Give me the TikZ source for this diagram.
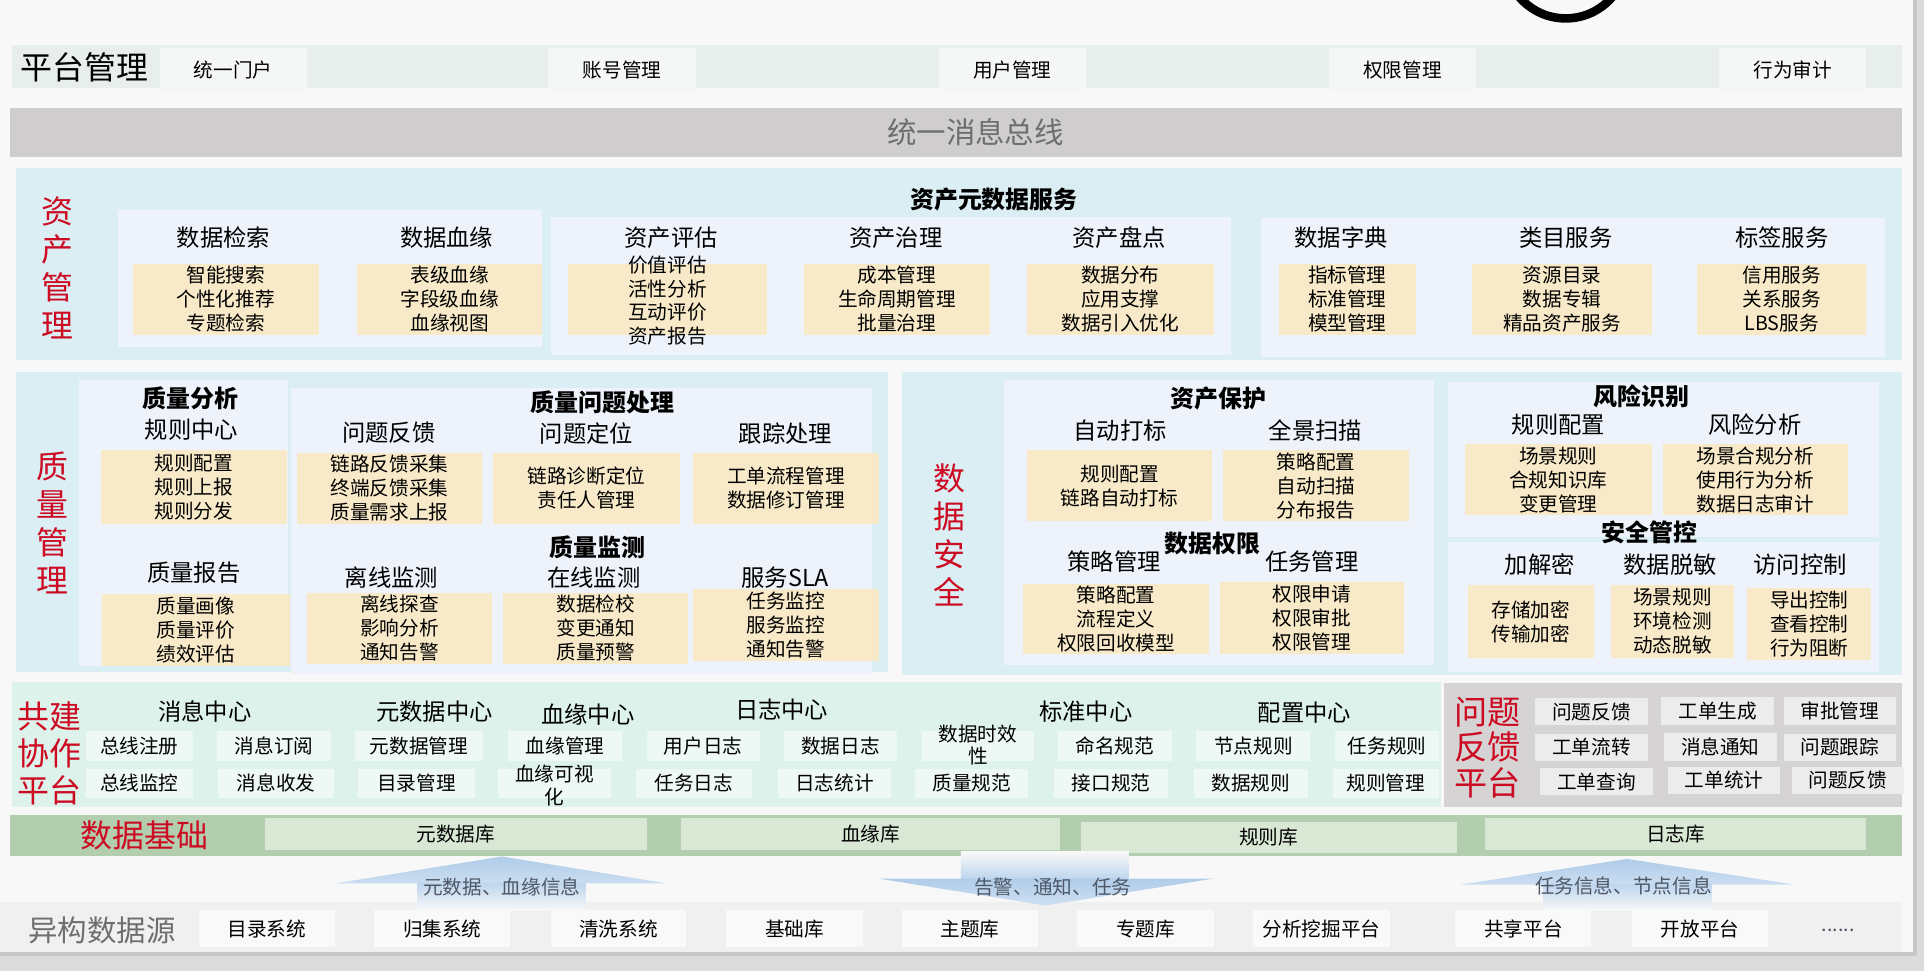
\documentclass[tikz,border=0pt]{standalone}
\usepackage{fontspec}
\setmainfont{Noto Sans CJK SC}
\usetikzlibrary{fit,positioning}
\definecolor{bgSlide} {HTML}{F8F8F8}
\definecolor{bgOut}   {HTML}{DCDCDC}
\definecolor{platBar} {HTML}{E7EEEC}
\definecolor{platBox} {HTML}{F4F7F6}
\definecolor{busGray} {HTML}{D0CDCE}
\definecolor{txtGray} {HTML}{6E6E6E}
\definecolor{secBlue} {HTML}{DBEEF4}
\definecolor{pnlWhite}{HTML}{EEF2FA}
\definecolor{ylw}     {HTML}{F8EAC8}
\definecolor{lblRed}  {HTML}{CC0A22}
\definecolor{mint}    {HTML}{DCF2EA}
\definecolor{mintBox} {HTML}{EEF8F4}
\definecolor{fbGray}  {HTML}{D5D3D3}
\definecolor{fbBox}   {HTML}{ECECEC}
\definecolor{sage}    {HTML}{B3CEAF}
\definecolor{sageBox} {HTML}{D9E8D5}
\definecolor{srcBar}  {HTML}{F0F0F0}
\definecolor{srcBox}  {HTML}{F9F9F9}
\definecolor{arrBlue} {HTML}{AFCCE9}
\definecolor{arrTxt}  {HTML}{4E5868}
\newcommand\fbig{\fontsize{26}{31}\selectfont}
\newcommand\fbus{\fontsize{24}{28}\selectfont}
\newcommand\fhd{\fontsize{19}{22}\selectfont}
\newcommand\fttl{\bfseries\fontsize{19.5}{22}\selectfont}
\newcommand\fitem{\fontsize{16}{19.5}\selectfont}

\begin{document}
\begin{tikzpicture}[x=1pt,y=-1pt,
      sec/.style={fill=secBlue,inner sep=0pt},
      pnl/.style={fill=pnlWhite,inner sep=0pt},
      tx/.style={inner sep=0pt,align=center,font=\fitem},
      c/.style={label={[tx]center:{#1}}},
      yb/.style={fill=ylw,inner sep=0pt},
      hd/.style={font=\fhd,inner sep=0pt},
      ttl/.style={font=\fttl,inner sep=0pt},
      rlab/.style={text=lblRed,font=\fbig,align=center,inner sep=0pt},
      pb/.style={fill=platBox,inner sep=0pt},
      mb/.style={fill=mintBox,inner sep=0pt},
      gb/.style={fill=fbBox,inner sep=0pt},
      db/.style={fill=sageBox,inner sep=0pt},
      sb/.style={fill=srcBox,inner sep=0pt},
      atxt/.style={text=arrTxt,font=\fitem,inner sep=0pt}]
    \useasboundingbox (0,0) rectangle (1568,791);
    \clip (0,0) rectangle (1568,791);
    % slide and its shadow
    \fill[bgOut] (0,0) rectangle (1568,791);
    \fill[black!22] (0,0) rectangle (1562,779);
    \fill[bgSlide] (0,0) rectangle (1559,776);
    \draw[line width=7pt] (1276,-35) circle (50pt);

    % platform management
    \fill[platBar] (10,37) rectangle (1550,72);
    \node[font=\fbig,inner sep=0pt] (ptgl) at (69,55) {平台管理};
    \node[pb,fit={(130,39) (250,75)},c=统一门户]   (mh) {};
    \node[pb,fit={(447,39) (567,75)},c=账号管理]   (zh) {};
    \node[pb,fit={(765,39) (885,75)},c=用户管理]   (yh) {};
    \node[pb,fit={(1083,39) (1203,75)},c=权限管理] (qx) {};
    \node[pb,fit={(1401,39) (1521,75)},c=行为审计] (sj) {};

    % message bus
    \node[fill=busGray,inner sep=0pt,fit={(8,88) (1550,128)}] (bus) {};
    \node[font=\fbus,text=txtGray,inner sep=0pt] (busl) at (795,108) {统一消息总线};

    % asset management
    \node[sec,fit={(13,137) (1550,293)}] (zc) {};
    \node[rlab] (zcl) at (47,218) {资\\产\\管\\理};
    \node[ttl] (zct) at (810,163) {资产元数据服务};
    \node[pnl,fit={(96,171) (442,283)}]   (zpa) {};
    \node[pnl,fit={(449,177) (1003,289)}] (zpb) {};
    \node[pnl,fit={(1028,178) (1536,291)}] (zpc) {};
    \node[hd] (h1) at (182,194) {数据检索};
    \node[hd] (h2) at (364,194) {数据血缘};
    \node[hd] (h3) at (547,194) {资产评估};
    \node[hd] (h4) at (730,194) {资产治理};
    \node[hd] (h5) at (912,194) {资产盘点};
    \node[hd] (h6) at (1093,194) {数据字典};
    \node[hd] (h7) at (1276,194) {类目服务};
    \node[hd] (h8) at (1452,194) {标签服务};
    \node[yb,fit={(108,215) (260,273)},c={智能搜索\\个性化推荐\\专题检索}]   (y1) {};
    \node[yb,fit={(291,215) (442,273)},c={表级血缘\\字段级血缘\\血缘视图}]   (y2) {};
    \node[yb,fit={(463,215) (625,273)}] (y3) {};
    \node[tx] (y3t) at (544,245) {价值评估\\活性分析\\互动评价\\资产报告};
    \node[yb,fit={(655,215) (807,273)},c={成本管理\\生命周期管理\\批量治理}]   (y4) {};
    \node[yb,fit={(837,215) (989,273)},c={数据分布\\应用支撑\\数据引入优化}]   (y5) {};
    \node[yb,fit={(1042,215) (1154,273)},c={指标管理\\标准管理\\模型管理}]     (y6) {};
    \node[yb,fit={(1200,215) (1346,273)},c={资源目录\\数据专辑\\精品资产服务}] (y7) {};
    \node[yb,fit={(1383,215) (1521,273)},c={信用服务\\关系服务\\LBS服务}]      (y8) {};

    % quality management
    \node[sec,fit={(13,303) (724,548)}] (zl) {};
    \node[rlab] (zll) at (43,426) {质\\量\\管\\理};
    \node[pnl,fit={(64,310) (235,543)}]  (qpa) {};
    \node[pnl,fit={(237,316) (711,549)}] (qpb) {};
    \node[ttl] (qt1) at (155,325) {质量分析};
    \node[ttl] (qt2) at (491,328) {质量问题处理};
    \node[ttl] (qt3) at (487,446) {质量监测};
    \node[hd] (qh1) at (156,350) {规则中心};
    \node[hd] (qh2) at (158,467) {质量报告};
    \node[hd] (qh3) at (317,353) {问题反馈};
    \node[hd] (qh4) at (478,353) {问题定位};
    \node[hd] (qh5) at (640,353) {跟踪处理};
    \node[hd] (qh6) at (319,471) {离线监测};
    \node[hd] (qh7) at (484,471) {在线监测};
    \node[hd] (qh8) at (640,471) {服务SLA};
    \node[yb,fit={(82,367) (234,427)},c={规则配置\\规则上报\\规则分发}]          (q1) {};
    \node[yb,fit={(83,484) (236,543)},c={质量画像\\质量评价\\绩效评估}]          (q2) {};
    \node[yb,fit={(242,369) (393,427)},c={链路反馈采集\\终端反馈采集\\质量需求上报}] (q3) {};
    \node[yb,fit={(402,369) (554,427)},c={链路诊断定位\\责任人管理}]            (q4) {};
    \node[yb,fit={(565,369) (716,427)},c={工单流程管理\\数据修订管理}]          (q5) {};
    \node[yb,fit={(250,483) (401,541)},c={离线探查\\影响分析\\通知告警}]        (q6) {};
    \node[yb,fit={(410,483) (561,541)},c={数据检校\\变更通知\\质量预警}]        (q7) {};
    \node[yb,fit={(565,480) (716,539)},c={任务监控\\服务监控\\通知告警}]        (q8) {};

    % data security
    \node[sec,fit={(735,303) (1550,550)}] (aq) {};
    \node[rlab] (aql) at (774,436) {数\\据\\安\\全};
    \node[pnl,fit={(818,310) (1169,542)}]  (apa) {};
    \node[pnl,fit={(1180,311) (1531,438)}] (apb) {};
    \node[pnl,fit={(1180,442) (1531,548)}] (apc) {};
    \node[ttl] (at1) at (993,325) {资产保护};
    \node[ttl] (at2) at (988,443) {数据权限};
    \node[ttl] (at3) at (1338,323) {风险识别};
    \node[ttl] (at4) at (1344,434) {安全管控};
    \node[hd] (ah1) at (913,351) {自动打标};
    \node[hd] (ah2) at (1072,351) {全景扫描};
    \node[hd] (ah3) at (908,458) {策略管理};
    \node[hd] (ah4) at (1069,458) {任务管理};
    \node[hd] (ah5) at (1270,346) {规则配置};
    \node[hd] (ah6) at (1430,346) {风险分析};
    \node[hd] (ah7) at (1255,460) {加解密};
    \node[hd] (ah8) at (1361,460) {数据脱敏};
    \node[hd] (ah9) at (1467,460) {访问控制};
    \node[yb,fit={(837,367) (988,425)},c={规则配置\\链路自动打标}]            (a1) {};
    \node[yb,fit={(997,367) (1148,425)},c={策略配置\\自动扫描\\分布报告}]     (a2) {};
    \node[yb,fit={(834,476) (985,533)},c={策略配置\\流程定义\\权限回收模型}]  (a3) {};
    \node[yb,fit={(994,474) (1144,533)},c={权限申请\\权限审批\\权限管理}]     (a4) {};
    \node[yb,fit={(1194,362) (1346,420)},c={场景规则\\合规知识库\\变更管理}]  (a5) {};
    \node[yb,fit={(1355,362) (1506,420)},c={场景合规分析\\使用行为分析\\数据日志审计}] (a6) {};
    \node[yb,fit={(1196,477) (1299,536)},c={存储加密\\传输加密}]              (a7) {};
    \node[yb,fit={(1313,477) (1413,536)},c={场景规则\\环境检测\\动态脱敏}]    (a8) {};
    \node[yb,fit={(1424,479) (1525,538)},c={导出控制\\查看控制\\行为阻断}]    (a9) {};

    % co-building platform
    \node[fill=mint,inner sep=0pt,fit={(10,556) (1174,658)}] (gj) {};
    \node[rlab,font=\fontsize{26}{30.5}\selectfont] (gjl) at (40,614) {共建\\协作\\平台};
    \node[hd] (gh1) at (167,580) {消息中心};
    \node[hd] (gh2) at (354,580) {元数据中心};
    \node[hd] (gh3) at (479,582) {血缘中心};
    \node[hd] (gh4) at (637,578) {日志中心};
    \node[hd] (gh5) at (885,580) {标准中心};
    \node[hd] (gh6) at (1063,581) {配置中心};
    \node[mb,fit={(70,596) (157,620)},c=总线注册]     (g1)  {};
    \node[mb,fit={(177,596) (270,620)},c=消息订阅]    (g2)  {};
    \node[mb,fit={(289,596) (394,620)},c=元数据管理]  (g3)  {};
    \node[mb,fit={(414,596) (507,620)},c=血缘管理]    (g4)  {};
    \node[mb,fit={(527,596) (619,620)},c=用户日志]    (g5)  {};
    \node[mb,fit={(639,596) (731,620)},c=数据日志]    (g6)  {};
    \node[mb,fit={(751,596) (843,620)}]               (g7)  {};
    \node[tx,font=\fontsize{16}{18}\selectfont] (g7t) at (797,607) {数据时效\\性};
    \node[mb,fit={(862,596) (955,620)},c=命名规范]    (g8)  {};
    \node[mb,fit={(975,596) (1068,620)},c=节点规则]   (g9)  {};
    \node[mb,fit={(1088,596) (1173,620)},c=任务规则]  (g10) {};
    \node[mb,fit={(70,627) (157,650)},c=总线监控]     (g11) {};
    \node[mb,fit={(178,627) (272,650)},c=消息收发]    (g12) {};
    \node[mb,fit={(292,627) (387,650)},c=目录管理]    (g13) {};
    \node[mb,fit={(406,627) (498,650)}]               (g14) {};
    \node[tx,font=\fontsize{16}{18.5}\selectfont] (g14t) at (452,640) {血缘可视\\化};
    \node[mb,fit={(518,627) (613,650)},c=任务日志]    (g15) {};
    \node[mb,fit={(634,627) (726,650)},c=日志统计]    (g16) {};
    \node[mb,fit={(746,627) (838,650)},c=质量规范]    (g17) {};
    \node[mb,fit={(859,627) (952,650)},c=接口规范]    (g18) {};
    \node[mb,fit={(973,627) (1066,650)},c=数据规则]   (g19) {};
    \node[mb,fit={(1086,627) (1173,650)},c=规则管理]  (g20) {};

    % feedback platform
    \node[fill=fbGray,inner sep=0pt,fit={(1177,557) (1550,658)}] (fk) {};
    \node[rlab,font=\fontsize{27}{29}\selectfont] (fkl) at (1212,609) {问题\\反馈\\平台};
    \node[gb,fit={(1251,569) (1343,591)},c=问题反馈] (f1) {};
    \node[gb,fit={(1354,568) (1446,591)},c=工单生成] (f2) {};
    \node[gb,fit={(1454,568) (1545,591)},c=审批管理] (f3) {};
    \node[gb,fit={(1251,598) (1343,620)},c=工单流转] (f4) {};
    \node[gb,fit={(1356,597) (1448,620)},c=消息通知] (f5) {};
    \node[gb,fit={(1454,598) (1545,620)},c=问题跟踪] (f6) {};
    \node[gb,fit={(1255,626) (1347,648)},c=工单查询] (f7) {};
    \node[gb,fit={(1359,625) (1451,647)},c=工单统计] (f8) {};
    \node[gb,fit={(1460,625) (1552,647)},c=问题反馈] (f9) {};

    % data foundation
    \node[fill=sage,inner sep=0pt,fit={(8,664) (1550,698)}] (jc) {};
    \node[rlab] (jcl) at (118,681) {数据基础};
    \node[db,fit={(216,667) (527,693)},c=元数据库]  (k1) {};
    \node[db,fit={(555,667) (864,693)},c=血缘库]    (k2) {};
    \node[db,fit={(881,670) (1187,695)},c=规则库]   (k3) {};
    \node[db,fit={(1210,667) (1521,693)},c=日志库]  (k4) {};

    % heterogeneous sources
    \fill[srcBar] (0,735) rectangle (1550,776);
    \node[font=\fbus,text=txtGray,inner sep=0pt] (ygl) at (83,758) {异构数据源};

    % flow arrows
    \path[top color=arrBlue,bottom color=arrBlue!65!white] (409,698) -- (544,720) -- (273,720) -- cycle;
    \path[top color=arrBlue!80!white,bottom color=srcBar!50!white] (340,720) rectangle (477,742);
    \path[top color=bgSlide,bottom color=arrBlue!80!white] (783,694) rectangle (920,716);
    \path[top color=arrBlue,bottom color=arrBlue!60!white] (716,716) -- (989,716) -- (852,738) -- cycle;
    \path[top color=arrBlue,bottom color=arrBlue!65!white] (1326,700) -- (1463,721) -- (1190,721) -- cycle;
    \path[top color=arrBlue!80!white,bottom color=srcBar!50!white] (1258,721) rectangle (1395,742);
    \node[atxt] (m1) at (409,723)  {元数据、血缘信息};
    \node[atxt] (m2) at (858,723)  {告警、通知、任务};
    \node[atxt] (m3) at (1323,722) {任务信息、节点信息};

    \node[sb,fit={(162,742) (273,772)},c=目录系统]      (s1) {};
    \node[sb,fit={(305,742) (416,772)},c=归集系统]      (s2) {};
    \node[sb,fit={(449,742) (559,772)},c=清洗系统]      (s3) {};
    \node[sb,fit={(592,742) (703,772)},c=基础库]        (s4) {};
    \node[sb,fit={(735,742) (846,772)},c=主题库]        (s5) {};
    \node[sb,fit={(878,742) (989,772)},c=专题库]        (s6) {};
    \node[sb,fit={(1021,742) (1133,772)},c=分析挖掘平台] (s7) {};
    \node[sb,fit={(1186,742) (1297,772)},c=共享平台]    (s8) {};
    \node[sb,fit={(1330,742) (1441,772)},c=开放平台]    (s9) {};
    \node[font=\fitem,text=arrTxt,inner sep=0pt] (s10) at (1498,758) {......};
  \end{tikzpicture}
\end{document}
